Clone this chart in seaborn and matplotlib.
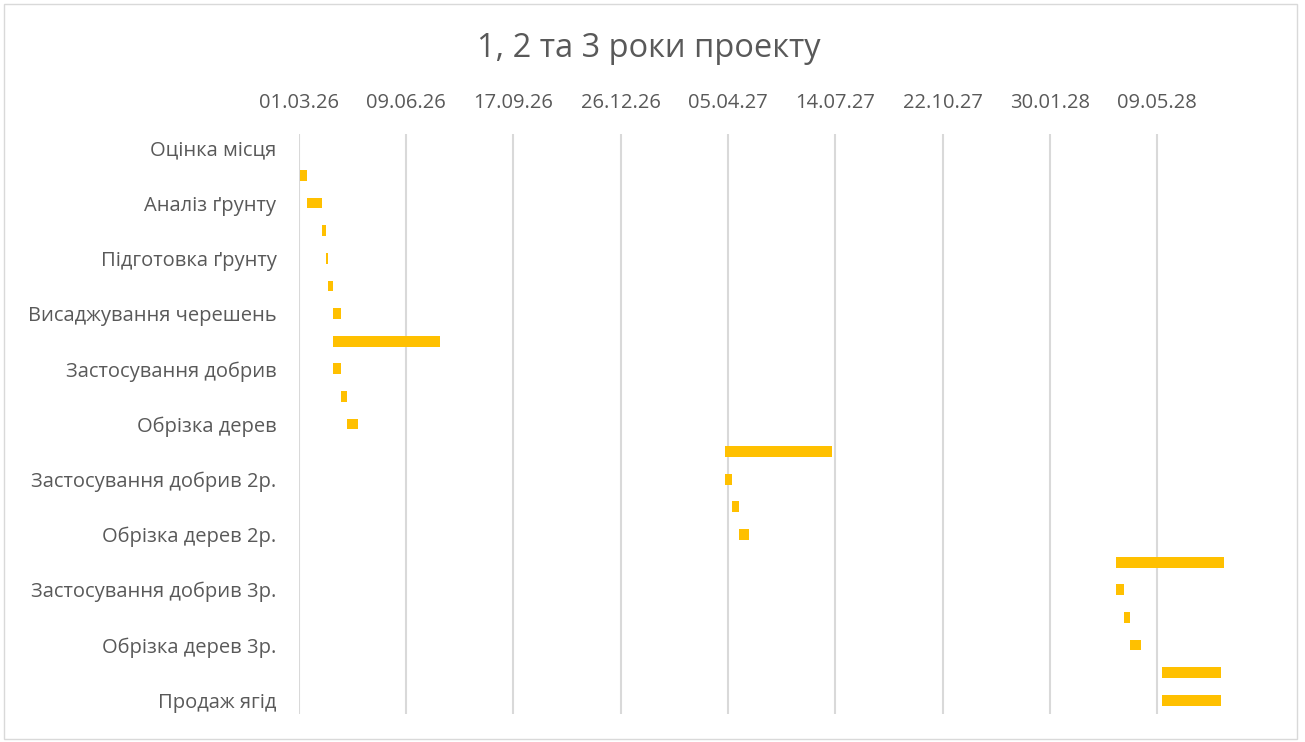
import matplotlib.pyplot as plt
import matplotlib.dates as mdates
import seaborn as sns
import pandas as pd
from matplotlib.patches import Rectangle

# task rows (top to bottom); Excel shows only every other category label
task_labels = ['Оцінка місця', 'Аналіз ґрунту', 'Підготовка ґрунту',
               'Висаджування черешень', 'Застосування добрив', 'Обрізка дерев',
               'Застосування добрив 2р.', 'Обрізка дерев 2р.',
               'Застосування добрив 3р.', 'Обрізка дерев 3р.', 'Продаж ягід']
label_rows = list(range(0, 21, 2))

start_dates = ['2026-03-01', '2026-03-02', '2026-03-09', '2026-03-23', '2026-03-26',
               '2026-03-28', '2026-04-02', '2026-04-02', '2026-04-02', '2026-04-09',
               '2026-04-15', '2027-04-02', '2027-04-02', '2027-04-09', '2027-04-15',
               '2028-04-01', '2028-04-01', '2028-04-08', '2028-04-14', '2028-05-14',
               '2028-05-14']
durations = [0.5, 7, 14, 3, 2, 5, 7, 100, 7, 6, 10, 100, 7, 6, 10,
             100, 7, 6, 10, 55, 55]

axis_start = '2026-03-01'
axis_end = '2028-08-17'

df = pd.DataFrame({
    'row': range(len(durations)),
    'start': pd.to_datetime(start_dates),
    'duration': durations,
})
df['start_num'] = mdates.date2num(df['start'])

sns.set_style('white')
plt.rcParams['font.family'] = ['Open Sans', 'DejaVu Sans']

fig = plt.figure(figsize=(13.05, 7.42), dpi=100)
ax = fig.add_axes([0.2289, 0.0377, 0.74, 0.7817])

sns.barplot(data=df, x='duration', y='row', orient='h', color='#FFC000',
            saturation=1, width=0.39, errorbar=None, ax=ax)

# move each bar to its start date
for patch, s in zip(ax.patches, df['start_num']):
    patch.set_x(s)
    patch.set_linewidth(0)

x0 = mdates.date2num(pd.Timestamp(axis_start))
ticks = [x0 + 100 * k for k in range(9)]
ax.set_xlim(x0, mdates.date2num(pd.Timestamp(axis_end)))
ax.set_xticks(ticks)
ax.xaxis.set_major_formatter(mdates.DateFormatter('%d.%m.%y'))
ax.xaxis.tick_top()
ax.tick_params(axis='x', length=0, pad=15, labelsize=14.5, labelcolor='#595959')

ax.set_ylim(20.5, -0.5)
ax.set_yticks(label_rows)
ax.set_yticklabels(task_labels)
ax.tick_params(axis='y', length=0, pad=16, labelsize=14.5, labelcolor='#595959')
ax.set_xlabel('')
ax.set_ylabel('')

ax.grid(axis='x', color='#D9D9D9', linewidth=1.5)
ax.set_axisbelow(True)
sns.despine(ax=ax, left=True, bottom=True, top=True, right=True)

fig.text(0.4975, 0.934, '1, 2 та 3 роки проекту', ha='center', va='center',
         fontsize=23.5, color='#595959')

fig.patches.append(Rectangle((0.003, 0.004), 0.991, 0.99, transform=fig.transFigure,
                             fill=False, edgecolor='#D9D9D9', linewidth=1))

fig.savefig('out.png', dpi=100)
